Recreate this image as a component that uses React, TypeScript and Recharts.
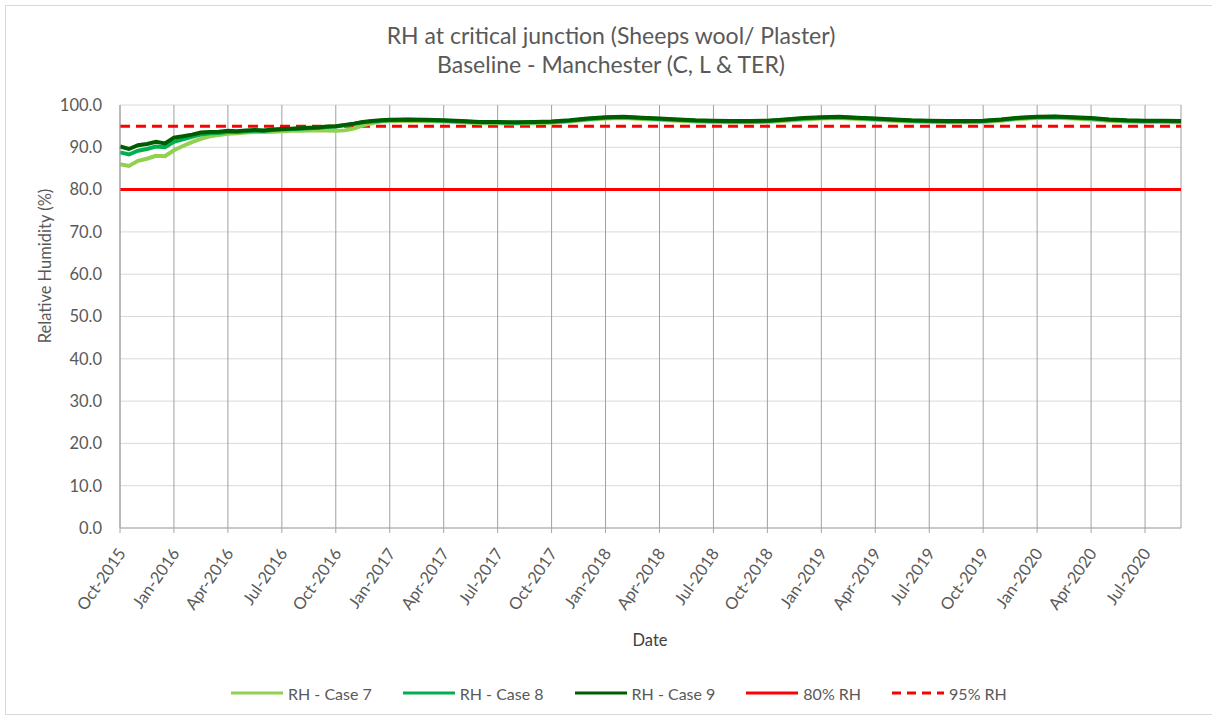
import React from 'react';
import { LineChart, Line, XAxis, YAxis, CartesianGrid, ReferenceLine } from 'recharts';

// months since Oct-2015 (half-month steps through the wetting-up period, then monthly)
const months = [
  0, 0.5, 1, 1.5, 2, 2.5, 3, 3.5, 4, 4.5, 5, 5.5, 6, 6.5, 7, 7.5, 8, 8.5, 9, 9.5,
  10, 10.5, 11, 11.5, 12, 12.5, 13, 13.5, 14, 14.5, 15,
  16, 17, 18, 19, 20, 21, 22, 23, 24, 25, 26, 27, 28, 29, 30, 31, 32, 33, 34, 35, 36,
  37, 38, 39, 40, 41, 42, 43, 44, 45, 46, 47, 48, 49, 50, 51, 52, 53, 54, 55, 56, 57, 58, 59,
];

const case7 = [
  86.0, 85.6, 86.8, 87.3, 88.0, 87.9, 89.3, 90.3, 91.2, 92.0, 92.6, 92.9, 93.2, 93.3, 93.5, 93.6, 93.6, 93.7, 93.8, 93.9,
  93.9, 94.0, 94.0, 94.0, 93.9, 94.0, 94.4, 95.2, 95.7, 96.1, 96.2,
  96.3, 96.2, 96.1, 95.9, 95.7, 95.7, 95.6, 95.7, 95.8, 96.1, 96.5, 96.8, 96.9, 96.7, 96.5, 96.3, 96.1, 96.0, 95.9, 95.9, 96.0,
  96.3, 96.6, 96.8, 96.9, 96.7, 96.5, 96.3, 96.1, 96.0, 95.9, 95.9, 96.0, 96.3, 96.7, 96.9, 97.0, 96.8, 96.6, 96.3, 96.1, 96.0, 96.0, 95.9,
];

const case8 = [
  88.8, 88.3, 89.2, 89.6, 90.2, 90.0, 91.3, 91.9, 92.5, 93.0, 93.3, 93.4, 93.6, 93.6, 93.8, 93.9, 93.9, 94.1, 94.2, 94.3,
  94.4, 94.5, 94.6, 94.8, 94.9, 95.2, 95.5, 95.9, 96.1, 96.3, 96.4,
  96.5, 96.4, 96.3, 96.1, 95.9, 95.9, 95.8, 95.9, 96.0, 96.3, 96.7, 97.0, 97.1, 96.9, 96.7, 96.5, 96.3, 96.2, 96.1, 96.1, 96.2,
  96.5, 96.8, 97.0, 97.1, 96.9, 96.7, 96.5, 96.3, 96.2, 96.1, 96.1, 96.2, 96.5, 96.9, 97.1, 97.2, 97.0, 96.8, 96.5, 96.3, 96.2, 96.2, 96.1,
];

const case9 = [
  90.2, 89.6, 90.5, 90.8, 91.3, 90.9, 92.3, 92.6, 93.0, 93.5, 93.6, 93.7, 93.9, 93.8, 94.0, 94.1, 94.0, 94.2, 94.3, 94.4,
  94.5, 94.6, 94.7, 94.9, 95.0, 95.3, 95.6, 96.0, 96.2, 96.4, 96.5,
  96.6, 96.5, 96.4, 96.2, 96.0, 96.0, 95.9, 96.0, 96.1, 96.4, 96.8, 97.1, 97.2, 97.0, 96.8, 96.6, 96.4, 96.3, 96.2, 96.2, 96.3,
  96.6, 96.9, 97.1, 97.2, 97.0, 96.8, 96.6, 96.4, 96.3, 96.2, 96.2, 96.3, 96.6, 97.0, 97.2, 97.3, 97.1, 96.9, 96.6, 96.4, 96.3, 96.3, 96.2,
];

const tickMonths = [0, 3, 6, 9, 12, 15, 18, 21, 24, 27, 30, 33, 36, 39, 42, 45, 48, 51, 54, 57];
const tickLabels = [
  'Oct-2015', 'Jan-2016', 'Apr-2016', 'Jul-2016', 'Oct-2016', 'Jan-2017', 'Apr-2017', 'Jul-2017', 'Oct-2017', 'Jan-2018',
  'Apr-2018', 'Jul-2018', 'Oct-2018', 'Jan-2019', 'Apr-2019', 'Jul-2019', 'Oct-2019', 'Jan-2020', 'Apr-2020', 'Jul-2020',
];
const yTicks = [0, 10, 20, 30, 40, 50, 60, 70, 80, 90, 100];
const limit80 = 80;
const limit95 = 95;

const data = months.map((t, i) => ({ t, c7: case7[i], c8: case8[i], c9: case9[i] }));

const FONT = 'Lato, "Open Sans", sans-serif';
const GREY = '#595959';

const DateTick = (props: any) => {
  const { x, y, payload } = props;
  const idx = tickMonths.indexOf(payload.value);
  const ax = x + 3;
  const ay = y + 16;
  return (
    <text
      x={ax}
      y={ay}
      transform={`rotate(-55, ${ax}, ${ay})`}
      textAnchor="end"
      dominantBaseline="middle"
      fontSize={16.5}
      fontFamily={FONT}
      fill={GREY}
    >
      {tickLabels[idx]}
    </text>
  );
};

const legendItems = [
  { name: 'RH - Case 7', color: '#92D050', dash: '' },
  { name: 'RH - Case 8', color: '#00B050', dash: '' },
  { name: 'RH - Case 9', color: '#005C00', dash: '' },
  { name: '80% RH', color: '#FF0000', dash: '' },
  { name: '95% RH', color: '#FF0000', dash: '9 6' },
];

export default function App() {
  return (
    <div style={{ position: 'absolute', left: 0, top: 0, width: 1212, height: 719, background: '#fff', fontFamily: FONT }}>
      <div style={{ position: 'absolute', left: 5, top: 5, width: 1212, height: 710, border: '1px solid #D9D9D9', boxSizing: 'border-box' }} />
      <div style={{ position: 'absolute', left: 0, top: 21, width: 1222, textAlign: 'center', color: GREY, fontSize: 23, lineHeight: '28.5px' }}>
        <div>RH at critical junction (Sheeps wool/ Plaster)</div>
        <div>Baseline - Manchester (C, L &amp; TER)</div>
      </div>
      <div style={{ position: 'absolute', left: 0, top: 0 }}>
        <LineChart width={1212} height={719} data={data} margin={{ top: 105, right: 31, bottom: 0, left: 0 }}>
          <CartesianGrid vertical={false} stroke="#D9D9D9" />
          <CartesianGrid horizontal={false} stroke="#A0A0A0" />
          <XAxis
            dataKey="t"
            type="number"
            domain={[0, 59]}
            ticks={tickMonths}
            tick={<DateTick />}
            height={191}
            stroke="#A6A6A6"
            tickSize={5}
            interval={0}
          />
          <YAxis
            domain={[0, 100]}
            ticks={yTicks}
            width={120}
            stroke="#A6A6A6"
            tickLine={false}
            tickFormatter={(v: number) => v.toFixed(1)}
            tick={{ fill: GREY, fontSize: 16.5, fontFamily: FONT, dx: -10 }}
          />
          <ReferenceLine y={limit80} stroke="#FF0000" strokeWidth={3} />
          <ReferenceLine y={limit95} stroke="#FF0000" strokeWidth={3} strokeDasharray="10 6" />
          <Line dataKey="c7" stroke="#92D050" strokeWidth={4} dot={false} isAnimationActive={false} />
          <Line dataKey="c8" stroke="#00B050" strokeWidth={4} dot={false} isAnimationActive={false} />
          <Line dataKey="c9" stroke="#005C00" strokeWidth={4} dot={false} isAnimationActive={false} />
        </LineChart>
      </div>
      <div
        style={{
          position: 'absolute', left: 45, top: 266, transform: 'translate(-50%, -50%) rotate(-90deg)',
          color: GREY, fontSize: 16.5, whiteSpace: 'nowrap',
        }}
      >
        Relative Humidity (%)
      </div>
      <div style={{ position: 'absolute', left: 650, top: 640, transform: 'translate(-50%, -50%)', color: '#404040', fontSize: 16.5 }}>
        Date
      </div>
      <div style={{ position: 'absolute', left: 231, top: 683, height: 20, display: 'flex', gap: 31, color: GREY, fontSize: 16, whiteSpace: 'nowrap' }}>
        {legendItems.map((it) => (
          <div key={it.name} style={{ display: 'flex', alignItems: 'center' }}>
            <svg width={52} height={20} style={{ marginRight: 5 }}>
              <line x1={0} y1={10} x2={52} y2={10} stroke={it.color} strokeWidth={3} strokeDasharray={it.dash || undefined} />
            </svg>
            <span>{it.name}</span>
          </div>
        ))}
      </div>
    </div>
  );
}
